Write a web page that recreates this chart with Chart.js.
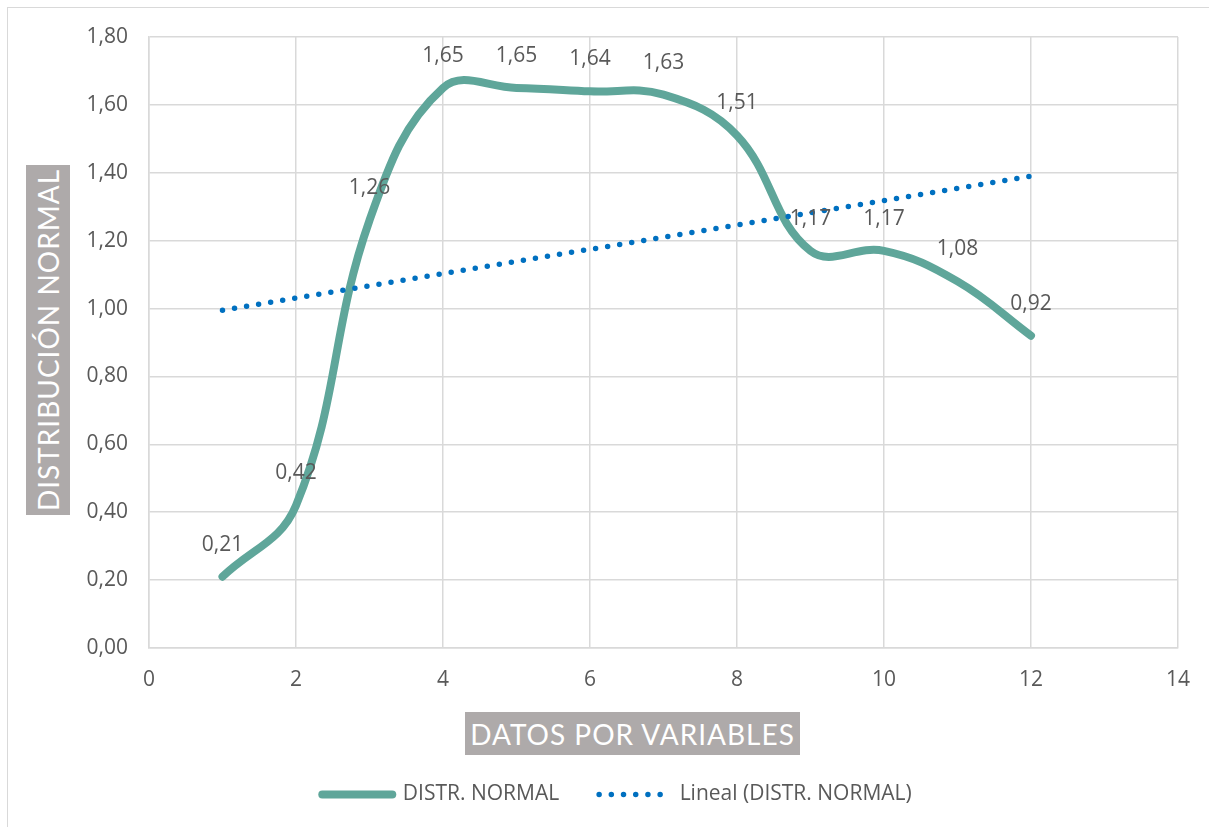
<!DOCTYPE html>
<html>
<head>
<meta charset="utf-8">
<script src="https://cdn.jsdelivr.net/npm/chart.js@4/dist/chart.umd.min.js"></script>
<style>
  html, body { margin: 0; padding: 0; background: #ffffff; }
  #wrap { position: relative; width: 1209px; height: 827px; overflow: hidden; }
  #frame { position: absolute; left: 7px; top: 7px; width: 1220px; height: 840px; border: 1.5px solid #d9d9d9; box-sizing: border-box; }
  canvas { position: absolute; left: 0; top: 0; }
  .atitle { position: absolute; background: #aeaaaa; color: #ffffff; font-family: Lato, "Noto Sans", sans-serif; font-size: 28px; letter-spacing: 1px; white-space: nowrap; display: flex; align-items: center; justify-content: center; }
  #xtitle { left: 465px; top: 712px; width: 335px; height: 43px; }
  #ytitle { left: 26px; top: 165px; width: 44px; height: 350px; }
  #ytitle span { display: inline-block; transform: rotate(-90deg); }
</style>
</head>
<body>
<div id="wrap">
  <div id="frame"></div>
  <canvas id="c" width="1209" height="827"></canvas>
  <div class="atitle" id="xtitle">DATOS POR VARIABLES</div>
  <div class="atitle" id="ytitle"><span>DISTRIBUCIÓN NORMAL</span></div>
</div>
<script>
// ---- data ----
const xValues = [1, 2, 3, 4, 5, 6, 7, 8, 9, 10, 11, 12];
const distValues = [0.21, 0.42, 1.26, 1.65, 1.65, 1.64, 1.63, 1.51, 1.17, 1.17, 1.08, 0.92];
const trendX = [1, 12];
const trendY = [0.995, 1.39];
const seriesNames = ['DISTR. NORMAL', 'Lineal (DISTR. NORMAL)'];
const xAxisRange = [0, 14];
const yAxisRange = [0, 1.8];

const fmt = v => v.toFixed(2).replace('.', ',');
const TXT = '#595959';
const FONT = 'Open Sans';
const FSIZE = 21;

const labelPlugin = {
  id: 'valueLabels',
  afterDatasetsDraw(chart) {
    const meta = chart.getDatasetMeta(0);
    const ctx = chart.ctx;
    ctx.save();
    ctx.font = FSIZE + 'px "' + FONT + '"';
    ctx.fillStyle = TXT;
    ctx.textAlign = 'center';
    ctx.textBaseline = 'middle';
    meta.data.forEach((pt, i) => {
      ctx.fillText(fmt(distValues[i]), pt.x, pt.y - 32);
    });
    ctx.restore();
  }
};

new Chart(document.getElementById('c'), {
  type: 'line',
  data: {
    datasets: [
      {
        label: seriesNames[0],
        data: xValues.map((x, i) => ({ x: x, y: distValues[i] })),
        borderColor: '#5fa69a',
        backgroundColor: '#5fa69a',
        borderWidth: 8,
        borderCapStyle: 'round',
        borderJoinStyle: 'round',
        pointRadius: 0,
        tension: 0.4,
        fill: false,
        order: 1
      },
      {
        label: seriesNames[1],
        data: trendX.map((x, i) => ({ x: x, y: trendY[i] })),
        borderColor: '#0070c0',
        backgroundColor: '#0070c0',
        borderWidth: 5.5,
        borderDash: [0, 12.2],
        borderCapStyle: 'round',
        pointRadius: 0,
        tension: 0,
        fill: false,
        order: 0
      }
    ]
  },
  options: {
    responsive: false,
    animation: false,
    layout: { padding: { left: 54, right: 29, top: 37, bottom: 12 } },
    plugins: {
      tooltip: { enabled: false },
      legend: {
        position: 'bottom',
        labels: {
          usePointStyle: true,
          pointStyle: 'line',
          pointStyleWidth: 70,
          boxHeight: FSIZE,
          padding: 40,
          color: TXT,
          font: { family: FONT, size: FSIZE },
          sort: (a, b) => a.datasetIndex - b.datasetIndex,
          generateLabels(chart) {
            const items = Chart.defaults.plugins.legend.labels.generateLabels(chart);
            items.forEach(it => {
              const ds = chart.data.datasets[it.datasetIndex];
              it.lineWidth = ds.borderWidth;
              it.strokeStyle = ds.borderColor;
              it.fillStyle = ds.borderColor;
              it.lineDash = ds.borderDash || [];
              it.lineCap = 'round';
            });
            return items;
          }
        }
      }
    },
    scales: {
      x: {
        type: 'linear',
        min: xAxisRange[0],
        max: xAxisRange[1],
        ticks: { stepSize: 2, padding: 19, color: TXT, font: { family: FONT, size: FSIZE } },
        grid: { color: '#d9d9d9', lineWidth: 1.5, drawTicks: false },
        border: { color: '#d9d9d9', width: 1.5 },
        afterFit(scale) {
          scale.height = scale.chart.height - 648 - 12 - scale.chart.legend.height;
        }
      },
      y: {
        min: yAxisRange[0],
        max: yAxisRange[1],
        ticks: { stepSize: 0.2, padding: 21, color: TXT, font: { family: FONT, size: FSIZE }, callback: v => fmt(v) },
        grid: { color: '#d9d9d9', lineWidth: 1.5, drawTicks: false },
        border: { color: '#d9d9d9', width: 1.5 },
        afterFit(scale) { scale.width = 95; }
      }
    }
  },
  plugins: [labelPlugin]
});
</script>
</body>
</html>
